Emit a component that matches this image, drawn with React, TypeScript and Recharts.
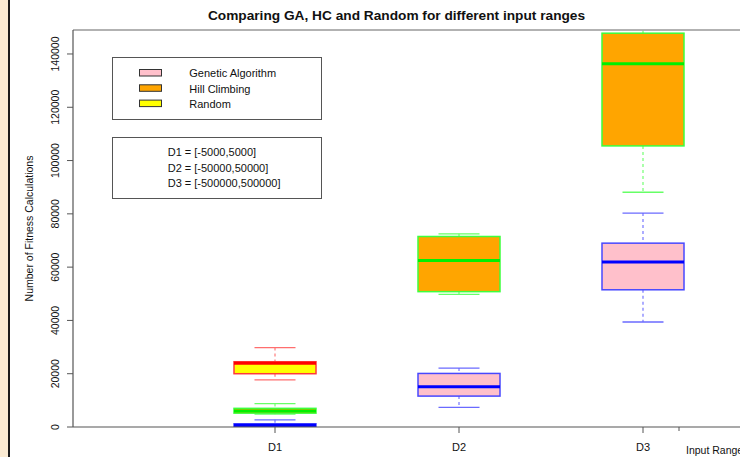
import React from 'react';
import { ComposedChart, Bar, XAxis, YAxis, ReferenceLine, Legend } from 'recharts';

const FONT = '"Liberation Sans", Arial, sans-serif';

const categories = ['D1', 'D2', 'D3'];

const gaMin = [0, 7400, 39400];
const gaQ1 = [250, 11600, 51500];
const gaMedian = [650, 15100, 61900];
const gaQ3 = [1200, 20100, 69000];
const gaMax = [2700, 22100, 80300];

const hcMin = [4800, 49800, 88100];
const hcQ1 = [5200, 50800, 105500];
const hcMedian = [6000, 62500, 136300];
const hcQ3 = [7000, 71500, 147800];
const hcMax = [8800, 72500, 151000];

const rndMin = [17700, null, null];
const rndQ1 = [20000, null, null];
const rndMedian = [23900, null, null];
const rndQ3 = [24500, null, null];
const rndMax = [29800, null, null];

const yTicks = [0, 20000, 40000, 60000, 80000, 100000, 120000, 140000];
const yDomainMax = 149000;
const seriesNames = ['Genetic Algorithm', 'Hill Climbing', 'Random'];
const rangeNotes = ['D1 = [-5000,5000]', 'D2 = [-50000,50000]', 'D3 = [-500000,500000]'];
const chartTitle = 'Comparing GA, HC and Random for different input ranges';
const xAxisTitle = 'Input Range';
const yAxisTitle = 'Number of Fitness Calculations';

type Stats = { min: number; q1: number; med: number; q3: number; max: number };

const mkStats = (mn: any[], q1: any[], md: any[], q3: any[], mx: any[], i: number): Stats | null =>
  mn[i] == null ? null : { min: mn[i], q1: q1[i], med: md[i], q3: q3[i], max: mx[i] };

const data = categories.map((cat, i) => {
  const ga = mkStats(gaMin, gaQ1, gaMedian, gaQ3, gaMax, i);
  const hc = mkStats(hcMin, hcQ1, hcMedian, hcQ3, hcMax, i);
  const rnd = mkStats(rndMin, rndQ1, rndMedian, rndQ3, rndMax, i);
  return {
    cat,
    ga: ga ? [ga.min, ga.max] : null,
    gaStats: ga,
    hc: hc ? [hc.min, hc.max] : null,
    hcStats: hc,
    rnd: rnd ? [rnd.min, rnd.max] : null,
    rndStats: rnd,
  };
});

const styles: Record<string, any> = {
  ga: { fill: '#FFC0CB', border: '#4848ff', whisker: '#6a6aff', median: '#0000ff' },
  hc: { fill: '#FFA500', border: '#3cff3c', whisker: '#66ff66', median: '#00f000' },
  rnd: { fill: '#FFFF00', border: '#ff3a3a', whisker: '#ff6e6e', median: '#ff0000' },
};

const makeBox = (key: string) => (props: any) => {
  const { x, y, width, height, payload } = props;
  const s: Stats | null = payload ? payload[key + 'Stats'] : null;
  if (!s || !Number.isFinite(y) || !Number.isFinite(height)) return <g />;
  const st = styles[key];
  const top = Math.min(y, y + height);
  const bot = Math.max(y, y + height);
  const py = (v: number) => bot - ((v - s.min) / (s.max - s.min)) * (bot - top);
  const cx = x + width / 2;
  const capL = cx - width / 4;
  const capR = cx + width / 4;
  return (
    <g>
      <line x1={cx} x2={cx} y1={py(s.max)} y2={py(s.q3)} stroke={st.whisker} strokeWidth={1.1} strokeDasharray="3 3" />
      <line x1={cx} x2={cx} y1={py(s.q1)} y2={py(s.min)} stroke={st.whisker} strokeWidth={1.1} strokeDasharray="3 3" />
      <line x1={capL} x2={capR} y1={py(s.max)} y2={py(s.max)} stroke={st.whisker} strokeWidth={1.3} />
      <line x1={capL} x2={capR} y1={py(s.min)} y2={py(s.min)} stroke={st.whisker} strokeWidth={1.3} />
      <rect x={x} y={py(s.q3)} width={width} height={py(s.q1) - py(s.q3)} fill={st.fill} stroke={st.border} strokeWidth={1.5} />
      <line x1={x} x2={x + width} y1={py(s.med)} y2={py(s.med)} stroke={st.median} strokeWidth={3} />
    </g>
  );
};

const XTick = (props: any) => {
  const { x, y, payload } = props;
  return (
    <text x={x} y={y + 16} textAnchor="middle" fontSize={11} fill="#111" fontFamily={FONT}>
      {payload.value}
    </text>
  );
};

const YTick = (props: any) => {
  const { x, y, payload } = props;
  return (
    <text x={x} y={y} transform={`rotate(-90, ${x}, ${y})`} textAnchor="middle" fontSize={10.5} fill="#111" fontFamily={FONT}>
      {payload.value}
    </text>
  );
};

const YLabel = (props: any) => {
  const vb = props.viewBox || { x: 0, y: 30, width: 73, height: 397 };
  const lx = vb.x + 33;
  const ly = vb.y + vb.height / 2;
  return (
    <text x={lx} y={ly} transform={`rotate(-90, ${lx}, ${ly})`} textAnchor="middle" fontSize={10.5} fill="#111" fontFamily={FONT}>
      {yAxisTitle}
    </text>
  );
};

const XLabel = (props: any) => {
  const vb = props.viewBox || { x: 73, y: 427, width: 707, height: 30 };
  return (
    <g>
      <line x1={vb.x + 606} x2={vb.x + 606} y1={vb.y} y2={vb.y + 4} stroke="#555" strokeWidth={1} />
      <text x={vb.x + 613} y={vb.y + 27} fontSize={10.5} fill="#111" fontFamily={FONT}>
        {xAxisTitle}
      </text>
    </g>
  );
};

const TitleLabel = (props: any) => {
  const vb = props.viewBox || { x: 73, y: 30 };
  return (
    <text x={vb.x + 323.5} y={vb.y - 10} textAnchor="middle" fontSize={13.7} fontWeight="bold" fill="#111" fontFamily={FONT}>
      {chartTitle}
    </text>
  );
};

const swatchFills = [styles.ga.fill, styles.hc.fill, styles.rnd.fill];

const LegendContent = () => (
  <svg width={212} height={143} style={{ display: 'block' }}>
    <rect x={0.5} y={0.5} width={209} height={62} fill="#fff" stroke="#555" strokeWidth={1} />
    {seriesNames.map((n, i) => (
      <g key={n}>
        <rect x={27.5} y={12.5 + 15.3 * i} width={22} height={6.5} fill={swatchFills[i]} stroke="#333" strokeWidth={1} />
        <text x={77.3} y={20.3 + 15.3 * i} fontSize={11} fill="#111" fontFamily={FONT}>
          {n}
        </text>
      </g>
    ))}
    <rect x={0.5} y={80.5} width={209} height={61} fill="#fff" stroke="#555" strokeWidth={1} />
    {rangeNotes.map((n, i) => (
      <text key={n} x={55.7} y={99.3 + 15.5 * i} fontSize={11} fill="#111" fontFamily={FONT}>
        {n}
      </text>
    ))}
  </svg>
);

export default function App() {
  const pad = { left: 110, right: 45 };
  return (
    <div style={{ position: 'absolute', left: 0, top: 0, width: 740, height: 457, overflow: 'hidden', background: '#fff', fontFamily: FONT }}>
      <ComposedChart width={780} height={457} data={data} margin={{ top: 30, right: 0, bottom: 0, left: 0 }}>
        <XAxis
          xAxisId="ga"
          dataKey="cat"
          height={30}
          padding={pad}
          interval={0}
          tickSize={6}
          tickMargin={2}
          tick={<XTick />}
          axisLine={{ stroke: '#555', strokeWidth: 1.2 }}
          tickLine={{ stroke: '#555', strokeWidth: 1 }}
          label={{ content: XLabel } as any}
        />
        <XAxis xAxisId="hc" dataKey="cat" hide padding={pad} />
        <XAxis xAxisId="rnd" dataKey="cat" hide padding={pad} />
        <YAxis
          width={73}
          domain={[0, yDomainMax]}
          ticks={yTicks}
          allowDataOverflow
          tickSize={6}
          tickMargin={8}
          tick={<YTick />}
          axisLine={{ stroke: '#555', strokeWidth: 1.2 }}
          tickLine={{ stroke: '#555', strokeWidth: 1 }}
          label={{ content: YLabel } as any}
        />
        <ReferenceLine xAxisId="ga" y={yDomainMax} stroke="#666" strokeWidth={1.2} label={{ content: TitleLabel } as any} />
        <Legend
          layout="horizontal"
          verticalAlign="middle"
          align="center"
          content={LegendContent as any}
          wrapperStyle={{ left: 112, top: 57, width: 212, height: 143 }}
        />
        <Bar xAxisId="ga" dataKey="ga" name={seriesNames[0]} barSize={82} shape={makeBox('ga')} isAnimationActive={false} />
        <Bar xAxisId="hc" dataKey="hc" name={seriesNames[1]} barSize={82} shape={makeBox('hc')} isAnimationActive={false} />
        <Bar xAxisId="rnd" dataKey="rnd" name={seriesNames[2]} barSize={82} shape={makeBox('rnd')} isAnimationActive={false} />
      </ComposedChart>
      <div style={{ position: 'absolute', left: 0, top: 0, width: 8, height: 457, background: '#fbebd3' }} />
      <div style={{ position: 'absolute', left: 8, top: 0, width: 2, height: 457, background: '#1c1c1c' }} />
    </div>
  );
}
